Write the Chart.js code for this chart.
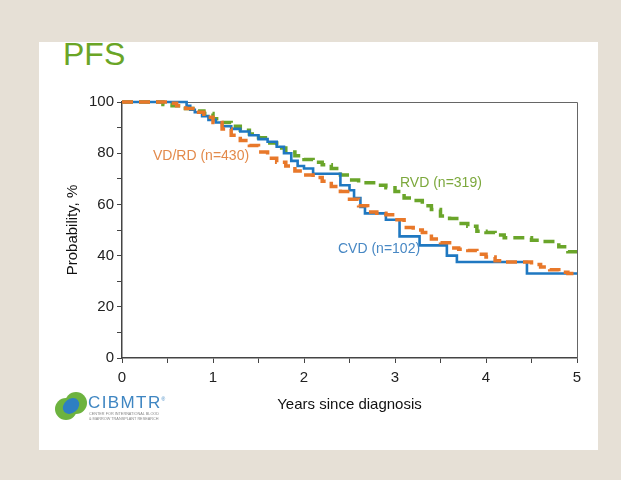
<!DOCTYPE html>
<html><head><meta charset="utf-8">
<script src="https://cdn.jsdelivr.net/npm/chart.js@4"></script>
<style>
html,body{margin:0;padding:0;}
body{width:621px;height:480px;background:#e6e0d6;position:relative;overflow:hidden;font-family:"Liberation Sans",Arial,sans-serif;}
#panel{position:absolute;left:39px;top:42px;width:559px;height:408px;background:#fff;}
#title{position:absolute;left:63px;top:37px;font-size:32px;color:#6aa526;line-height:1.1;}
#c{position:absolute;left:0;top:0;}
.lab{position:absolute;font-size:14px;white-space:nowrap;line-height:1;}
#logo{position:absolute;left:54px;top:390px;}
#logotxt{position:absolute;left:88px;top:394px;font-size:17px;letter-spacing:1.4px;color:#3f86c2;line-height:1;}
#logosub{position:absolute;left:89px;top:412px;font-size:3.8px;color:#888;line-height:1.2;white-space:nowrap;}
</style></head><body>
<div id="panel"></div>
<div id="title">PFS</div>
<canvas id="c" width="621" height="480"></canvas>
<div class="lab" style="left:153px;top:148px;color:#e38a4b;">VD/RD (n=430)</div>
<div class="lab" style="left:400px;top:175px;color:#7ca83c;">RVD (n=319)</div>
<div class="lab" style="left:338px;top:241px;color:#4888c4;">CVD (n=102)</div>
<svg id="logo" width="34" height="34" viewBox="0 0 34 34">
  <circle cx="12" cy="19" r="11" fill="#6db33f"/>
  <circle cx="22" cy="13" r="11" fill="#6db33f"/>
  <ellipse cx="17" cy="16" rx="7" ry="9" transform="rotate(50 17 16)" fill="#2e7fc3"/>
</svg>
<div id="logotxt">CIBMTR<sup style="font-size:5px">®</sup></div>
<div id="logosub">CENTER FOR INTERNATIONAL BLOOD<br>&amp; MARROW TRANSPLANT RESEARCH</div>
<script>
// CVD (n=102): step survival
const cvdYears = [0, 0.71, 0.75, 0.8, 0.88, 0.95, 1.03, 1.1, 1.2, 1.3, 1.4, 1.5, 1.6, 1.7, 1.78, 1.86, 1.93, 2.0, 2.1, 2.4, 2.5, 2.55, 2.62, 2.67, 2.9, 3.05, 3.27, 3.57, 3.68, 4.45, 5.0];
const cvdProb  = [100, 98.5, 97, 96, 94.5, 93, 92, 90.5, 89.5, 88.5, 87, 85.5, 84.5, 82.5, 80, 77, 75, 74, 72, 67.5, 65.5, 62.5, 59, 56.5, 54, 47.5, 44, 40, 37.5, 33, 33];
// VD/RD (n=430)
const vdYears = [0, 0.5, 0.6, 0.7, 0.8, 0.9, 1.0, 1.1, 1.2, 1.3, 1.4, 1.5, 1.6, 1.7, 1.8, 1.9, 2.0, 2.1, 2.2, 2.3, 2.4, 2.5, 2.6, 2.7, 2.8, 2.9, 3.0, 3.1, 3.2, 3.3, 3.4, 3.5, 3.6, 3.7, 3.8, 3.9, 4.0, 4.1, 4.2, 4.3, 4.4, 4.5, 4.6, 4.7, 4.8, 4.9, 5.0];
const vdProb  = [100, 99.5, 98.5, 97.5, 96, 94, 92, 89.5, 87, 85, 83, 80.5, 78, 76.5, 75, 73, 71.5, 70.5, 69, 67, 65, 62, 59.5, 57, 56.5, 56, 54, 51, 50, 49, 46.5, 45, 43, 42.5, 42, 40.5, 39.5, 38, 37.5, 37.5, 37.5, 36.5, 35.5, 34.5, 33.5, 33, 33];
// RVD (n=319)
const rvdYears = [0, 0.45, 0.55, 0.65, 0.8, 0.9, 1.0, 1.1, 1.2, 1.3, 1.4, 1.5, 1.6, 1.7, 1.8, 1.9, 2.0, 2.1, 2.2, 2.3, 2.4, 2.5, 2.6, 2.7, 2.8, 2.9, 3.0, 3.1, 3.2, 3.3, 3.4, 3.5, 3.6, 3.7, 3.8, 3.9, 4.0, 4.1, 4.2, 4.3, 4.4, 4.5, 4.6, 4.7, 4.8, 4.9, 5.0];
const rvdProb  = [100, 99, 98.5, 97.5, 96.5, 95.5, 93.5, 92, 90.5, 89, 87.5, 86, 84, 82, 80.5, 79, 77.5, 76.5, 75.5, 74, 71.5, 69.5, 68.5, 68.5, 67.5, 66.5, 65, 62.5, 61.5, 59.5, 58, 55.5, 54.5, 52.5, 51.5, 49.5, 49, 48, 47, 47, 47, 46, 45.5, 45.5, 43.5, 41.5, 41.5];

const toPts = (xs, ys) => xs.map((x, i) => ({x: x, y: ys[i]}));

const boxPlugin = {
  id: 'box',
  beforeDatasetsDraw(chart) {
    const {ctx, chartArea: a} = chart;
    ctx.save();
    ctx.strokeStyle = '#666';
    ctx.lineWidth = 1;
    ctx.beginPath();
    ctx.moveTo(a.left, a.top + 0.5);
    ctx.lineTo(a.right + 0.5, a.top + 0.5);
    ctx.lineTo(a.right + 0.5, a.bottom);
    ctx.stroke();
    ctx.restore();
  }
};

const tickFont = {family: '"Liberation Sans", Arial, sans-serif', size: 15};

new Chart(document.getElementById('c'), {
  type: 'line',
  data: {
    datasets: [
      {label: 'VD/RD (n=430)', data: toPts(vdYears, vdProb), borderColor: '#e8782a', borderWidth: 3.5, borderDash: [11, 6], stepped: 'before', pointRadius: 0, fill: false, order: 0, clip: 5},
      {label: 'CVD (n=102)', data: toPts(cvdYears, cvdProb), borderColor: '#1f78c1', borderWidth: 2.6, stepped: 'before', pointRadius: 0, fill: false, order: 1, clip: 5},
      {label: 'RVD (n=319)', data: toPts(rvdYears, rvdProb), borderColor: '#6aa52a', borderWidth: 3.5, borderDash: [11, 6], stepped: 'before', pointRadius: 0, fill: false, order: 2, clip: 5}
    ]
  },
  options: {
    responsive: false,
    animation: false,
    layout: {padding: {left: 60, top: 102, right: 44, bottom: 62}},
    plugins: {legend: {display: false}, tooltip: {enabled: false}},
    scales: {
      x: {
        type: 'linear', min: 0, max: 5,
        afterFit(s) { s.height = 60; },
        ticks: {stepSize: 0.5, autoSkip: false, maxRotation: 0, font: tickFont, color: '#222', padding: 6,
          callback: v => Number.isInteger(v) ? String(v) : ''},
        grid: {drawOnChartArea: false, drawTicks: true, tickLength: 5, color: '#444'},
        border: {display: true, color: '#444', width: 1.5},
        title: {display: true, text: 'Years since diagnosis', font: tickFont, color: '#111'}
      },
      y: {
        min: 0, max: 100,
        afterFit(s) { s.width = 62; },
        ticks: {stepSize: 10, autoSkip: false, font: tickFont, color: '#222', padding: 3,
          callback: v => (v % 20 === 0) ? String(v) : ''},
        grid: {drawOnChartArea: false, drawTicks: true, tickLength: 5, color: '#444'},
        border: {display: true, color: '#444', width: 1.5},
        title: {display: true, text: 'Probability, %', font: tickFont, color: '#111'}
      }
    }
  },
  plugins: [boxPlugin]
});
</script>
</body></html>
